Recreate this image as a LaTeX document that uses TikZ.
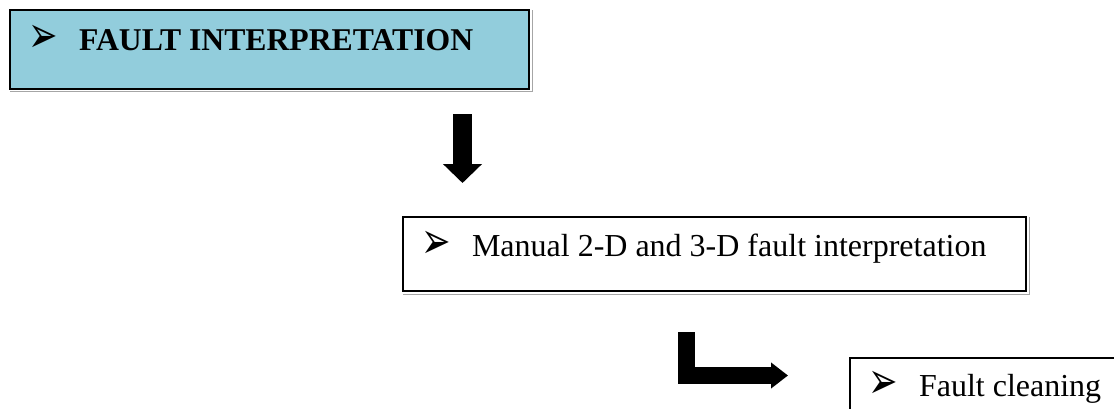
\documentclass[tikz,border=0pt]{standalone}
\usepackage{fontspec}
\setmainfont{Liberation Serif}
\newfontfamily\dingfont{DejaVu Sans}
\usetikzlibrary{arrows.meta, positioning}

\definecolor{faultblue}{HTML}{92CDDC}
\newcommand{\stagemark}{\makebox[51pt][l]{\raisebox{-2.5pt}{\scalebox{1.1}[1.6]{\dingfont ➢}}}}

\begin{document}
\begin{tikzpicture}[
			x=1pt, y=-1pt, line join=miter,
			font=\fontsize{32}{38}\selectfont,
			stagebox/.style={draw, line width=2pt, anchor=north west, align=flush left, inner xsep=18pt, inner ysep=0pt},
			stageedge/.style={gray!70, line width=1pt},
			downarrow/.style={line width=19pt, -{Triangle[length=19pt, width=38pt]}},
			turnarrow/.style={line width=17pt, -{Triangle[length=17pt, width=25pt]}}
			]
			\clip (0,0) rectangle (1114,408);
			% the three stages
			\node[stagebox, fill=faultblue, text width=483pt, text height=40pt, text depth=38.5pt] (fault) at (9,9)
				{\stagemark{\fontsize{31.7}{38}\selectfont\bfseries FAULT INTERPRETATION}};
			\node[stagebox, text width=587pt, text height=39pt, text depth=35pt] (manual) at (402,216)
				{\stagemark Manual 2-D and 3-D fault interpretation};
			\node[stagebox, text width=300pt, text height=38pt, text depth=40pt] (clean) at (849,357)
				{\stagemark Fault cleaning};
			\draw[stageedge] ([shift={(2,1)}]fault.north east) |- ([shift={(1,2)}]fault.south west);
			\draw[stageedge] ([shift={(2,1)}]manual.north east) |- ([shift={(1,2)}]manual.south west);
			% block arrows between them
			\coordinate (downtop) at (462.5,114);
			\coordinate (downtip) at (462.5,183);
			\coordinate (turntop) at (686,332);
			\coordinate (turntip) at (788,375.5);
			\draw[downarrow] (downtop) -- (downtip);
			\draw[turnarrow] (turntop) |- (turntip);
		\end{tikzpicture}
\end{document}
